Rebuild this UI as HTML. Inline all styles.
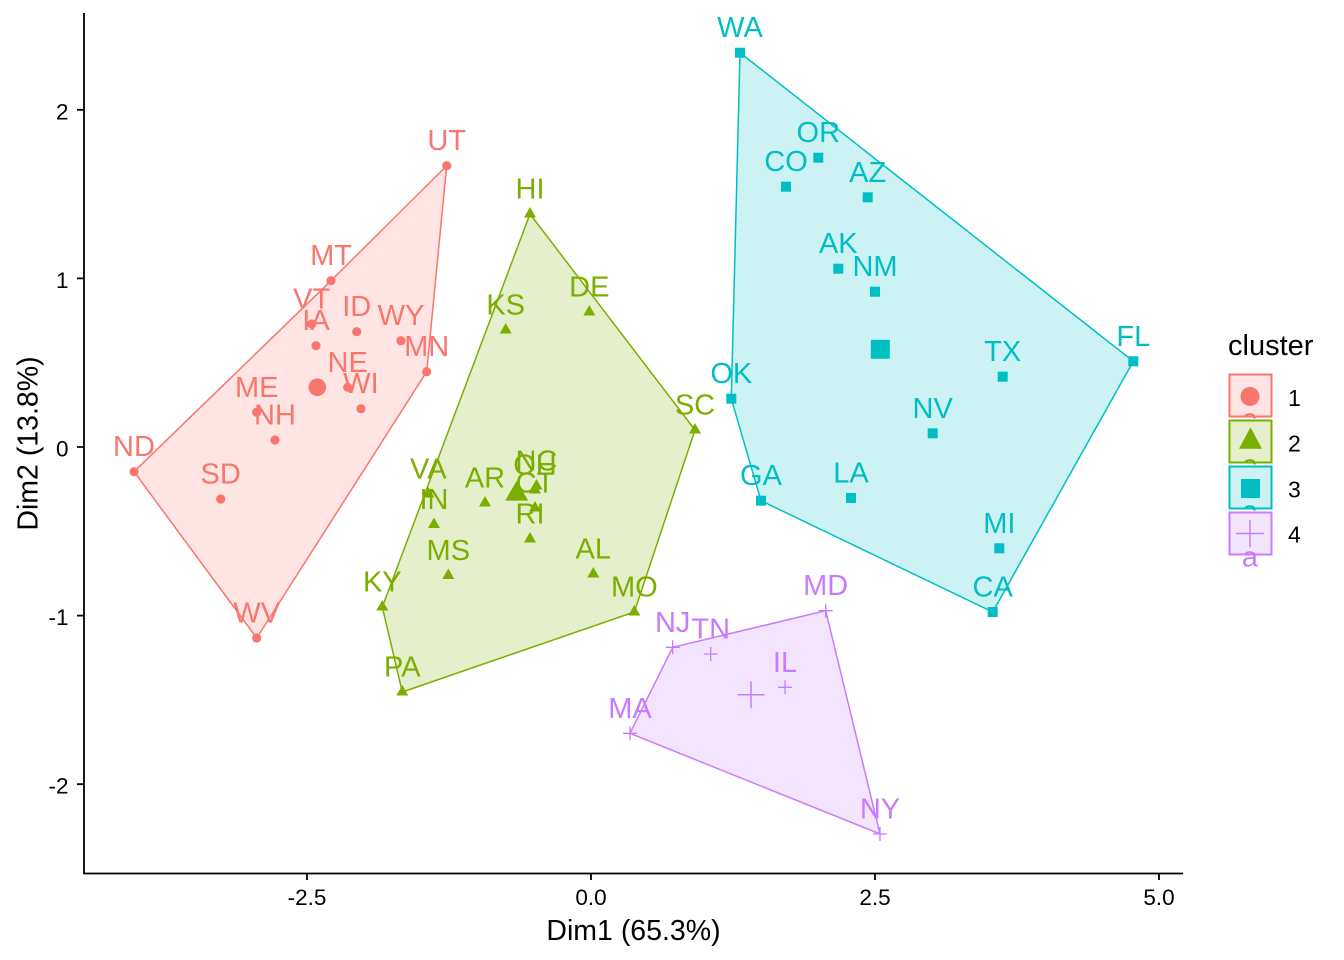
<!DOCTYPE html>
<html>
<head>
<meta charset="utf-8">
<style>
html,body{margin:0;padding:0;background:#fff;}
svg{display:block;}
text{font-family:"Liberation Sans",Arial,sans-serif;}
</style>
</head>
<body>
<svg width="1344" height="960" viewBox="0 0 1344 960" xmlns="http://www.w3.org/2000/svg">
<rect x="0" y="0" width="1344" height="960" fill="#fff"/>

<!-- Hulls -->
<polygon points="134,471.7 331,280.7 446.7,165.7 426.7,371.7 256.7,638" fill="#F8766D" fill-opacity="0.2" stroke="#F8766D" stroke-width="1.5"/>
<polygon points="530,214 695,430 634.3,612 402.3,692 382.3,607" fill="#7CAE00" fill-opacity="0.2" stroke="#7CAE00" stroke-width="1.5"/>
<polygon points="740,52.7 1133.3,361.3 992.7,612 761,500.7 731.3,398.7" fill="#00BFC4" fill-opacity="0.2" stroke="#00BFC4" stroke-width="1.5"/>
<polygon points="630,733.3 672.7,647.3 825.7,610.7 880,834" fill="#C77CFF" fill-opacity="0.2" stroke="#C77CFF" stroke-width="1.5"/>

<!-- Cluster 1 points -->
<g fill="#F8766D">
<circle cx="446.7" cy="165.7" r="4.6"/>
<circle cx="331" cy="280.7" r="4.6"/>
<circle cx="311.7" cy="324" r="4.6"/>
<circle cx="316" cy="345.7" r="4.6"/>
<circle cx="356.7" cy="331.7" r="4.6"/>
<circle cx="401" cy="340.7" r="4.6"/>
<circle cx="426.7" cy="371.7" r="4.6"/>
<circle cx="347.7" cy="387.3" r="4.6"/>
<circle cx="361" cy="408.7" r="4.6"/>
<circle cx="256.7" cy="412.3" r="4.6"/>
<circle cx="275" cy="440" r="4.6"/>
<circle cx="134" cy="471.7" r="4.6"/>
<circle cx="220.7" cy="499" r="4.6"/>
<circle cx="256.7" cy="638" r="4.6"/>
<circle cx="317.3" cy="387.3" r="8.8"/>
</g>

<!-- Cluster 2 points -->
<g fill="#7CAE00">
<polygon points="530,207 536,217.5 524,217.5"/>
<polygon points="505.7,323 511.7,333.5 499.7,333.5"/>
<polygon points="589.3,305 595.3,315.5 583.3,315.5"/>
<polygon points="695,423 701,433.5 689,433.5"/>
<polygon points="428.3,487 434.3,497.5 422.3,497.5"/>
<polygon points="434,517.5 440,528 428,528"/>
<polygon points="485,496 491,506.5 479,506.5"/>
<polygon points="536.5,479 542.5,489.5 530.5,489.5"/>
<polygon points="535,483 541,493.5 529,493.5"/>
<polygon points="535,501 541,511.5 529,511.5"/>
<polygon points="530,532 536,542.5 524,542.5"/>
<polygon points="448.3,568.5 454.3,579 442.3,579"/>
<polygon points="593.3,567 599.3,577.5 587.3,577.5"/>
<polygon points="382.3,600 388.3,610.5 376.3,610.5"/>
<polygon points="634.3,605 640.3,615.5 628.3,615.5"/>
<polygon points="402.3,685 408.3,695.5 396.3,695.5"/>
<polygon points="516.7,480.8 528.2,500.6 505.2,500.6"/>
</g>

<!-- Cluster 3 points -->
<g fill="#00BFC4">
<rect x="735" y="47.7" width="10" height="10"/>
<rect x="813.3" y="152.7" width="10" height="10"/>
<rect x="781" y="181.7" width="10" height="10"/>
<rect x="862.7" y="192.3" width="10" height="10"/>
<rect x="833.3" y="263.7" width="10" height="10"/>
<rect x="870" y="286.7" width="10" height="10"/>
<rect x="997.7" y="371.7" width="10" height="10"/>
<rect x="1128.3" y="356.3" width="10" height="10"/>
<rect x="726.3" y="393.7" width="10" height="10"/>
<rect x="927.7" y="428.3" width="10" height="10"/>
<rect x="756" y="495.7" width="10" height="10"/>
<rect x="846" y="493" width="10" height="10"/>
<rect x="994.3" y="543.3" width="10" height="10"/>
<rect x="987.7" y="607" width="10" height="10"/>
<rect x="870.8" y="339.8" width="19" height="19"/>
</g>

<!-- Cluster 4 points -->
<g stroke="#C77CFF" stroke-width="1.3" fill="none">
<path d="M818.7,610.7h14M825.7,603.7v14"/>
<path d="M665.7,647.3h14M672.7,640.3v14"/>
<path d="M703.7,654h14M710.7,647v14"/>
<path d="M778,687.3h14M785,680.3v14"/>
<path d="M623,733.3h14M630,726.3v14"/>
<path d="M873,834h14M880,827v14"/>
<path d="M737.5,694.7h27M751,681.2v27" stroke-width="1.5"/>
</g>

<!-- Labels -->
<g font-size="29" text-anchor="middle">
<g fill="#F8766D">
<text x="446.7" y="150.2">UT</text>
<text x="331" y="265.2">MT</text>
<text x="311.7" y="308.5">VT</text>
<text x="316" y="330.2">IA</text>
<text x="356.7" y="316.2">ID</text>
<text x="401" y="325.2">WY</text>
<text x="426.7" y="356.2">MN</text>
<text x="347.7" y="371.8">NE</text>
<text x="361" y="393.2">WI</text>
<text x="256.7" y="396.8">ME</text>
<text x="275" y="424.5">NH</text>
<text x="134" y="456.2">ND</text>
<text x="220.7" y="483.5">SD</text>
<text x="256.7" y="622.5">WV</text>
</g>
<g fill="#7CAE00">
<text x="530" y="198.5">HI</text>
<text x="505.7" y="314.5">KS</text>
<text x="589.3" y="296.5">DE</text>
<text x="695" y="414.5">SC</text>
<text x="428.3" y="478.5">VA</text>
<text x="434" y="509">IN</text>
<text x="485" y="487.5">AR</text>
<text x="536.5" y="470.5">NC</text>
<text x="535" y="474.5">OH</text>
<text x="535" y="492.5">CT</text>
<text x="530" y="523.5">RI</text>
<text x="448.3" y="560">MS</text>
<text x="593.3" y="558.5">AL</text>
<text x="382.3" y="591.5">KY</text>
<text x="634.3" y="596.5">MO</text>
<text x="402.3" y="676.5">PA</text>
</g>
<g fill="#00BFC4">
<text x="740" y="37.2">WA</text>
<text x="818.3" y="142.2">OR</text>
<text x="786" y="171.2">CO</text>
<text x="867.7" y="181.8">AZ</text>
<text x="838.3" y="253.2">AK</text>
<text x="875" y="276.2">NM</text>
<text x="1002.7" y="361.2">TX</text>
<text x="1133.3" y="345.8">FL</text>
<text x="731.3" y="383.2">OK</text>
<text x="932.7" y="417.8">NV</text>
<text x="761" y="485.2">GA</text>
<text x="851" y="482.5">LA</text>
<text x="999.3" y="532.8">MI</text>
<text x="992.7" y="596.5">CA</text>
</g>
<g fill="#C77CFF">
<text x="825.7" y="595.2">MD</text>
<text x="672.7" y="631.8">NJ</text>
<text x="710.7" y="638.5">TN</text>
<text x="785" y="671.8">IL</text>
<text x="630" y="717.8">MA</text>
<text x="880" y="818.5">NY</text>
</g>
</g>

<!-- Axes -->
<g stroke="#000" stroke-width="1.8" fill="none">
<path d="M84,13V873.5H1183"/>
<path d="M77,109.8h7M77,278.4h7M77,447h7M77,615.6h7M77,784.2h7"/>
<path d="M307,873v7M591,873v7M875,873v7M1159,873v7"/>
</g>
<g font-size="22.5" fill="#000">
<g text-anchor="end">
<text x="68.5" y="119.5">2</text>
<text x="68.5" y="288">1</text>
<text x="68.5" y="456.5">0</text>
<text x="68.5" y="625">-1</text>
<text x="68.5" y="793.5">-2</text>
</g>
<g text-anchor="middle">
<text x="307" y="905">-2.5</text>
<text x="591" y="905">0.0</text>
<text x="875" y="905">2.5</text>
<text x="1159" y="905">5.0</text>
</g>
</g>
<text x="633.5" y="940" font-size="28.5" text-anchor="middle" fill="#000">Dim1 (65.3%)</text>
<text transform="translate(37.5,443.5) rotate(-90)" font-size="28.5" text-anchor="middle" fill="#000">Dim2 (13.8%)</text>

<!-- Legend -->
<text x="1228" y="355" font-size="29" fill="#000">cluster</text>

<rect x="1227" y="372.5" width="46" height="46" fill="#fff"/>
<rect x="1229.5" y="374.5" width="42" height="42" fill="#F8766D" fill-opacity="0.2" stroke="#F8766D" stroke-width="2"/>
<circle cx="1250" cy="396.5" r="9.5" fill="#F8766D"/>
<text x="1250" y="428.5" font-size="29" text-anchor="middle" fill="#F8766D">a</text>

<rect x="1227" y="418.5" width="46" height="46" fill="#fff"/>
<rect x="1229.5" y="420.5" width="42" height="42" fill="#7CAE00" fill-opacity="0.2" stroke="#7CAE00" stroke-width="2"/>
<polygon points="1250.5,427.3 1262,448.7 1239,448.7" fill="#7CAE00"/>
<text x="1250" y="474.5" font-size="29" text-anchor="middle" fill="#7CAE00">a</text>

<rect x="1227" y="464.5" width="46" height="46" fill="#fff"/>
<rect x="1229.5" y="466.5" width="42" height="42" fill="#00BFC4" fill-opacity="0.2" stroke="#00BFC4" stroke-width="2"/>
<rect x="1241" y="479" width="19" height="19" fill="#00BFC4"/>
<text x="1250" y="520.5" font-size="29" text-anchor="middle" fill="#00BFC4">a</text>

<rect x="1227" y="510.5" width="46" height="46" fill="#fff"/>
<rect x="1229.5" y="512.5" width="42" height="42" fill="#C77CFF" fill-opacity="0.2" stroke="#C77CFF" stroke-width="2"/>
<path d="M1236.2,533.5h27.6M1250,519.7v27.6" stroke="#C77CFF" stroke-width="1.5" fill="none"/>
<text x="1250" y="566.5" font-size="29" text-anchor="middle" fill="#C77CFF">a</text>

<g font-size="23" fill="#000">
<text x="1288" y="406">1</text>
<text x="1288" y="451.7">2</text>
<text x="1288" y="497.3">3</text>
<text x="1288" y="542.7">4</text>
</g>
</svg>
</body>
</html>
